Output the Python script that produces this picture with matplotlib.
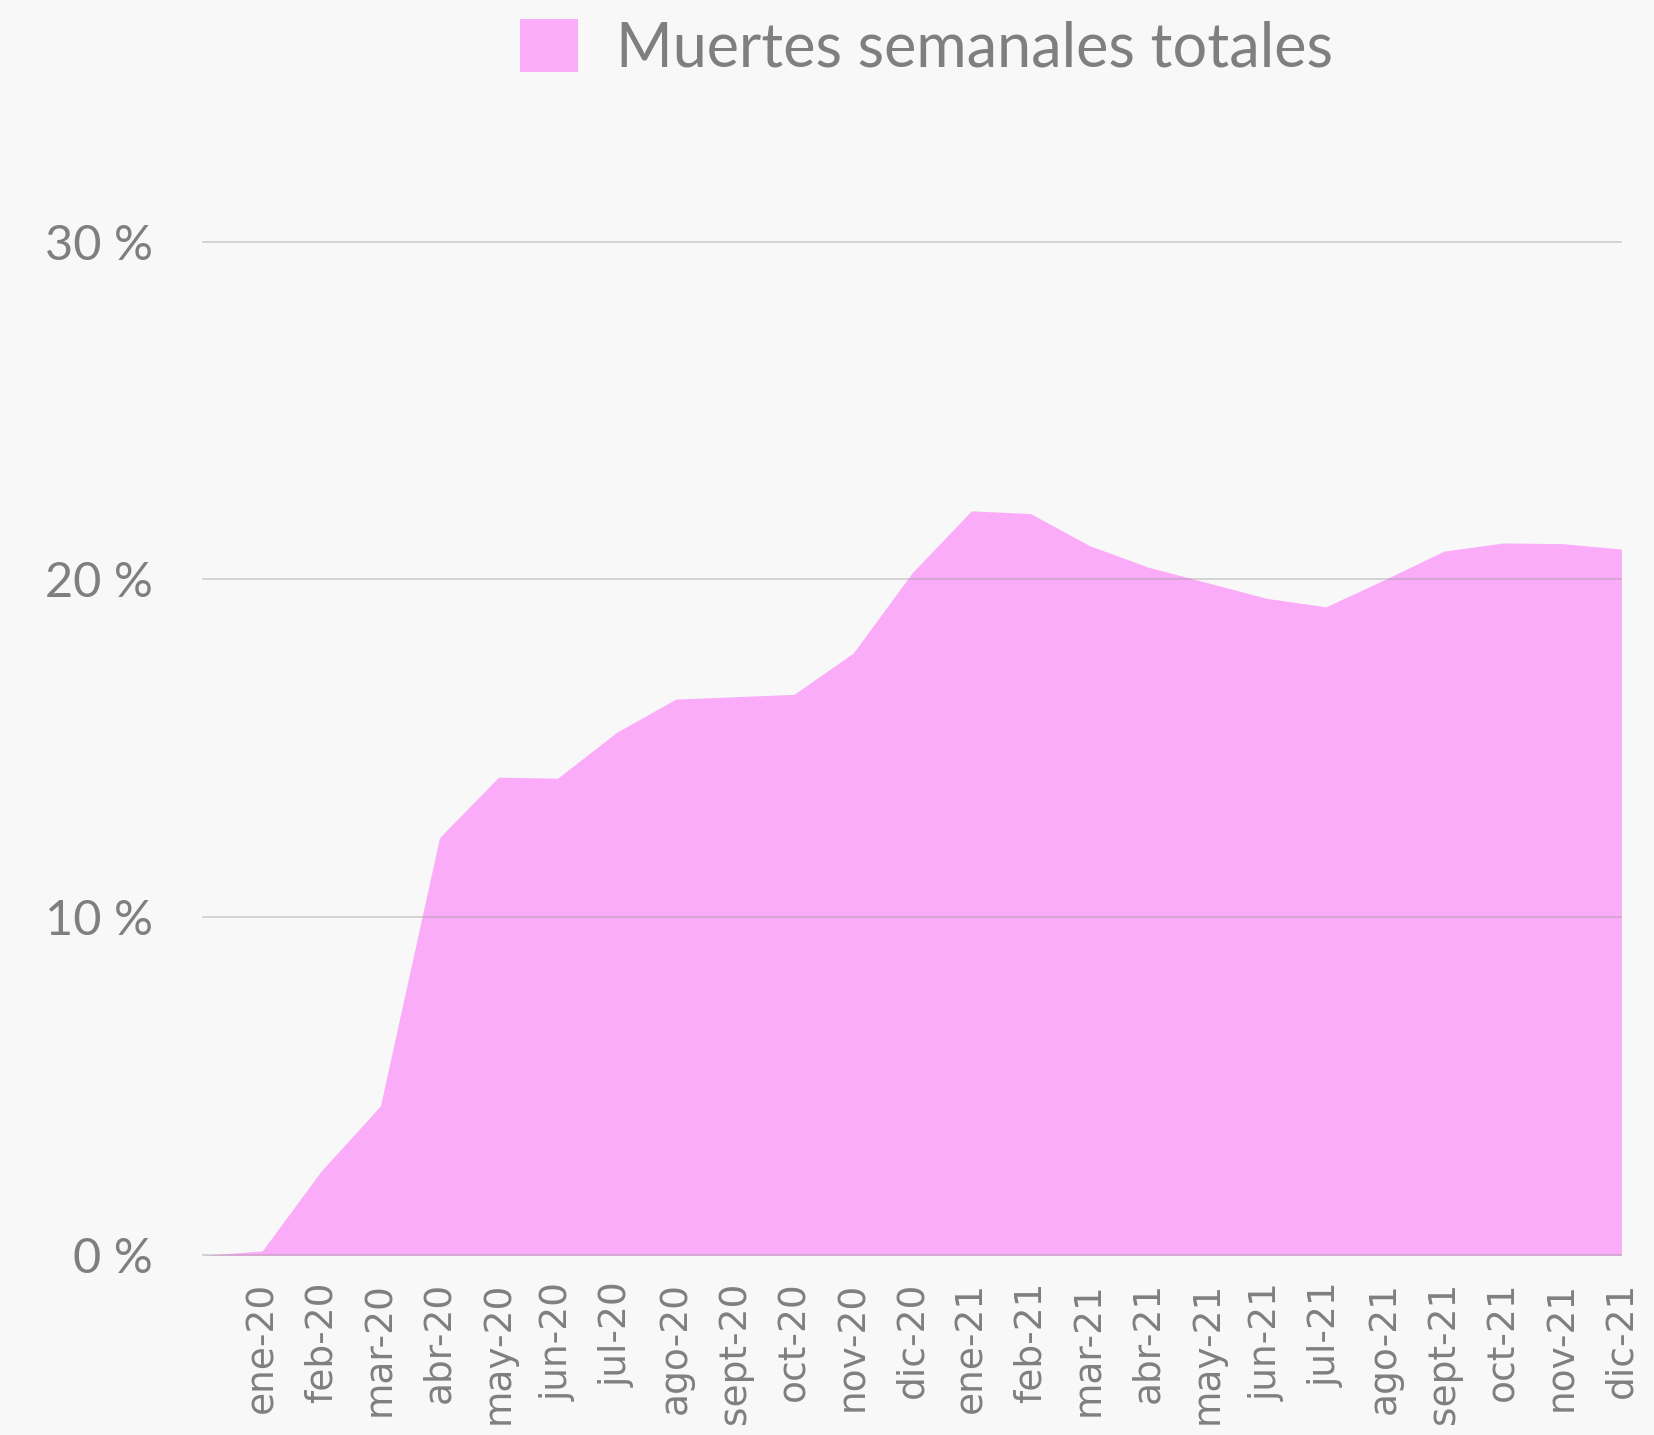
import matplotlib
matplotlib.use('Agg')
import matplotlib.pyplot as plt
from matplotlib.patches import Patch
import numpy as np

# Data (weekly deaths share, %)
months = ['ene-20', 'feb-20', 'mar-20', 'abr-20', 'may-20', 'jun-20',
          'jul-20', 'ago-20', 'sept-20', 'oct-20', 'nov-20', 'dic-20',
          'ene-21', 'feb-21', 'mar-21', 'abr-21', 'may-21', 'jun-21',
          'jul-21', 'ago-21', 'sept-21', 'oct-21', 'nov-21', 'dic-21']
start_value = 0.0
values = [0.13, 2.5, 4.42, 12.36, 14.15, 14.12,
          15.48, 16.46, 16.53, 16.6, 17.82, 20.2,
          22.03, 21.95, 21.0, 20.36, 19.9, 19.44,
          19.19, 20.0, 20.84, 21.08, 21.06, 20.9]
yticks = [0, 10, 20, 30]
ytick_labels = ['0 %', '10 %', '20 %', '30 %']
series_name = 'Muertes semanales totales'

bg = '#f8f8f8'
pink = '#fbacf9'
text_gray = '#7f7f7f'

plt.rcParams['font.family'] = ['Lato', 'DejaVu Sans']

fig = plt.figure(figsize=(16.54, 14.35), dpi=100, facecolor=bg)
ax = fig.add_axes([0.1228, 0.1252, 0.8575, 0.7065])
ax.set_facecolor(bg)

x = np.arange(len(months) + 1)
y = [start_value] + values
ax.fill_between(x, 0, y, color=pink, linewidth=0, zorder=1)

ax.set_xlim(0, len(months))
ax.set_ylim(0, 30)
ax.set_yticks(yticks)
ax.set_yticklabels(ytick_labels)
ax.set_xticks(x[1:])
ax.set_xticklabels(months, rotation=90)

for t in yticks:
    ax.axhline(t, color='#9a9a9a', alpha=0.45, linewidth=1.2, zorder=2,
               clip_on=False)

for s in ax.spines.values():
    s.set_visible(False)
ax.tick_params(axis='y', length=0, pad=36, labelsize=35, labelcolor=text_gray)
ax.tick_params(axis='x', length=0, pad=19, labelsize=27, labelcolor=text_gray)
for lab in ax.get_xticklabels():
    lab.set_fontfamily('DejaVu Sans')

handle = Patch(facecolor=pink, edgecolor='none')
leg = fig.legend([handle], [series_name], loc='upper center',
                 bbox_to_anchor=(0.56, 1.012), frameon=False,
                 fontsize=44, handlelength=0.95, handleheight=0.95,
                 handletextpad=0.62, borderaxespad=0.2)
for t in leg.get_texts():
    t.set_color(text_gray)

fig.savefig('out.png', dpi=100, facecolor=bg)
